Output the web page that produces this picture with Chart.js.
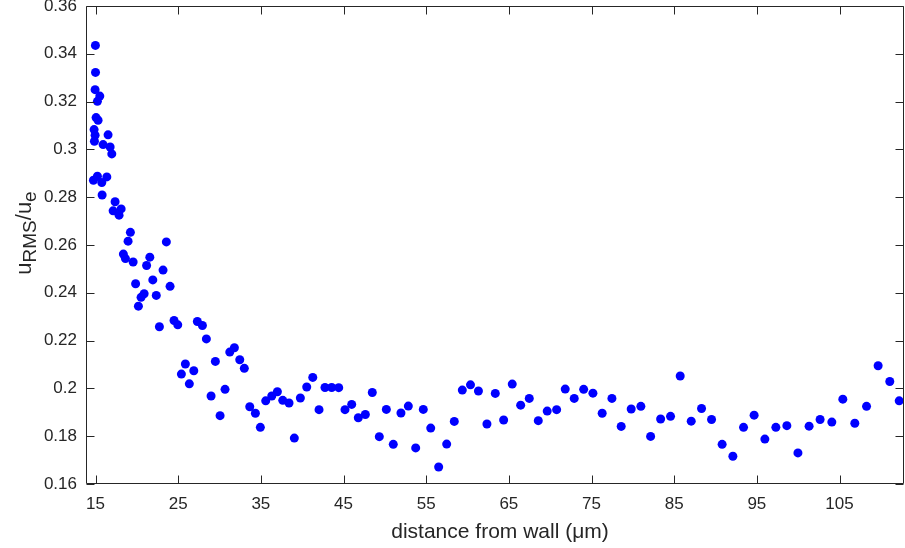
<!DOCTYPE html>
<html>
<head>
<meta charset="utf-8">
<script src="https://cdn.jsdelivr.net/npm/chart.js@4.4.1/dist/chart.umd.min.js"></script>
<style>
html,body{margin:0;padding:0;background:#fff;}
#wrap{width:905px;height:548px;position:relative;}
</style>
</head>
<body>
<div id="wrap"><canvas id="c" width="905" height="548"></canvas></div>
<script>
// distance from wall (micrometres)
const xValues = [
  14.99,15.00,14.95,15.52,15.23,15.07,15.31,14.83,14.95,16.52,
  14.87,15.92,16.77,16.97,14.75,15.23,15.76,16.37,15.80,17.37,
  17.13,18.10,17.85,19.22,18.94,23.57,18.37,18.62,19.55,21.57,
  21.18,23.17,19.85,21.93,24.02,20.88,20.51,22.35,20.19,22.73,
  24.50,24.95,27.32,27.93,28.41,31.24,31.80,29.50,32.45,33.00,
  25.87,26.89,25.39,26.35,28.98,30.67,30.07,34.94,35.59,33.66,
  34.34,36.32,37.00,37.65,38.41,39.05,39.78,40.55,41.28,42.04,
  42.76,43.57,44.42,45.18,45.99,46.79,47.64,48.48,49.33,50.18,
  51.02,51.95,52.84,53.73,54.65,55.55,56.51,57.48,58.40,59.37,
  60.36,61.32,62.35,63.36,64.37,65.41,66.43,67.47,68.56,69.64,
  70.78,71.82,72.91,74.05,75.17,76.29,77.47,78.59,79.80,80.97,
  82.15,83.36,84.56,85.73,87.06,88.31,89.52,90.80,92.10,93.39,
  94.67,95.97,97.30,98.63,99.97,101.32,102.65,104.07,105.40,106.85,
  108.27,109.67,111.08,112.22
];
// u_RMS / u_e
const yValues = [
  0.3435,0.3322,0.3250,0.3223,0.3201,0.3133,0.3122,0.3083,0.3059,0.3061,
  0.3034,0.3020,0.3010,0.2981,0.2871,0.2888,0.2861,0.2885,0.2809,0.2781,
  0.2743,0.2751,0.2725,0.2653,0.2616,0.2613,0.2562,0.2543,0.2529,0.2549,
  0.2514,0.2495,0.2438,0.2454,0.2427,0.2396,0.2381,0.2389,0.2344,0.2258,
  0.2284,0.2266,0.2280,0.2263,0.2207,0.2152,0.2170,0.2113,0.2120,0.2084,
  0.2102,0.2074,0.2060,0.2019,0.1968,0.1996,0.1886,0.1837,0.1948,0.1923,
  0.1896,0.1968,0.1986,0.1950,0.1939,0.1792,0.1960,0.2006,0.2046,0.1911,
  0.2004,0.2004,0.2003,0.1911,0.1933,0.1877,0.1891,0.1983,0.1798,0.1912,
  0.1766,0.1897,0.1926,0.1751,0.1912,0.1834,0.1671,0.1767,0.1862,0.1993,
  0.2015,0.1989,0.1851,0.1979,0.1868,0.2018,0.1930,0.1958,0.1865,0.1905,
  0.1911,0.1997,0.1958,0.1996,0.1980,0.1896,0.1958,0.1841,0.1914,0.1925,
  0.1799,0.1872,0.1883,0.2052,0.1863,0.1916,0.1870,0.1766,0.1716,0.1837,
  0.1888,0.1788,0.1837,0.1844,0.1730,0.1842,0.1870,0.1859,0.1955,0.1854,
  0.1925,0.2095,0.2029,0.1948
];
const xTicks = [15,25,35,45,55,65,75,85,95,105];
const yTicks = [0.16,0.18,0.2,0.22,0.24,0.26,0.28,0.3,0.32,0.34,0.36];
const xLabel = 'distance from wall (\u03BCm)';
const yLabelParts = [['u',false],['RMS',true],['/u',false],['e',true]];

const AX = '#262626';
const FONT = '"Liberation Sans", Arial, Helvetica, sans-serif';
const points = xValues.map((x,i)=>({x:x,y:yValues[i]}));

const boxPlugin = {
  id:'box',
  afterDraw(chart){
    const ctx = chart.ctx, a = chart.chartArea;
    const xs = chart.scales.x, ys = chart.scales.y;
    const L = Math.round(a.left)+0.5, R = Math.round(a.right)-0.5;
    const T = Math.round(a.top)+0.5, B = Math.round(a.bottom)-0.5;
    ctx.save();
    ctx.strokeStyle = AX; ctx.lineWidth = 1;
    ctx.beginPath();
    ctx.rect(L, T, R-L, B-T);
    const tl = 8;
    xTicks.forEach(v=>{
      const px = Math.round(xs.getPixelForValue(v))+0.5;
      ctx.moveTo(px,B); ctx.lineTo(px,B-tl);
      ctx.moveTo(px,T); ctx.lineTo(px,T+tl);
    });
    yTicks.forEach(v=>{
      const py = Math.round(ys.getPixelForValue(v))+0.5;
      ctx.moveTo(L,py); ctx.lineTo(L+tl,py);
      ctx.moveTo(R,py); ctx.lineTo(R-tl,py);
    });
    ctx.stroke();
    // x axis title
    ctx.fillStyle = AX;
    ctx.font = '21px ' + FONT;
    ctx.textAlign = 'center'; ctx.textBaseline = 'alphabetic';
    ctx.fillText(xLabel, (a.left+a.right)/2 + 5, 538);
    // y axis title with subscripts
    const mainF = '22px ' + FONT, subF = '19px ' + FONT;
    let total = 0;
    yLabelParts.forEach(p=>{ ctx.font = p[1]?subF:mainF; total += ctx.measureText(p[0]).width; });
    ctx.translate(31, 233);
    ctx.rotate(-Math.PI/2);
    ctx.textAlign = 'left';
    let cx = -total/2;
    yLabelParts.forEach(p=>{
      ctx.font = p[1]?subF:mainF;
      ctx.fillText(p[0], cx, p[1]?5:0);
      cx += ctx.measureText(p[0]).width;
    });
    ctx.restore();
  }
};

function zeroPad(s){ s.paddingTop = 0; s.paddingBottom = 0; s.paddingLeft = 0; s.paddingRight = 0; }

new Chart(document.getElementById('c'), {
  type:'scatter',
  data:{datasets:[{
    data:points,
    backgroundColor:'#0000FF',
    borderWidth:0,
    pointRadius:4.5,
    pointHoverRadius:4.5
  }]},
  options:{
    responsive:false,
    animation:false,
    events:[],
    layout:{autoPadding:false, padding:{top:6,right:1,left:0,bottom:0}},
    plugins:{legend:{display:false},tooltip:{enabled:false}},
    scales:{
      x:{
        type:'linear', min:13.85, max:112.8,
        afterBuildTicks(s){ s.ticks = xTicks.map(v=>({value:v})); },
        afterFit(s){ s.height = 64; zeroPad(s); },
        grid:{display:false, drawTicks:false},
        border:{display:false},
        ticks:{color:AX, font:{family:FONT,size:17}, padding:10, maxRotation:0, autoSkip:false,
          callback:v=>String(v)}
      },
      y:{
        type:'linear', min:0.16, max:0.36,
        afterBuildTicks(s){ s.ticks = yTicks.map(v=>({value:v})); },
        afterFit(s){ s.width = 86; zeroPad(s); },
        grid:{display:false, drawTicks:false},
        border:{display:false},
        ticks:{color:AX, font:{family:FONT,size:17}, padding:9, autoSkip:false,
          callback:v=>String(Number(v.toFixed(2)))}
      }
    }
  },
  plugins:[boxPlugin]
});
</script>
</body>
</html>
